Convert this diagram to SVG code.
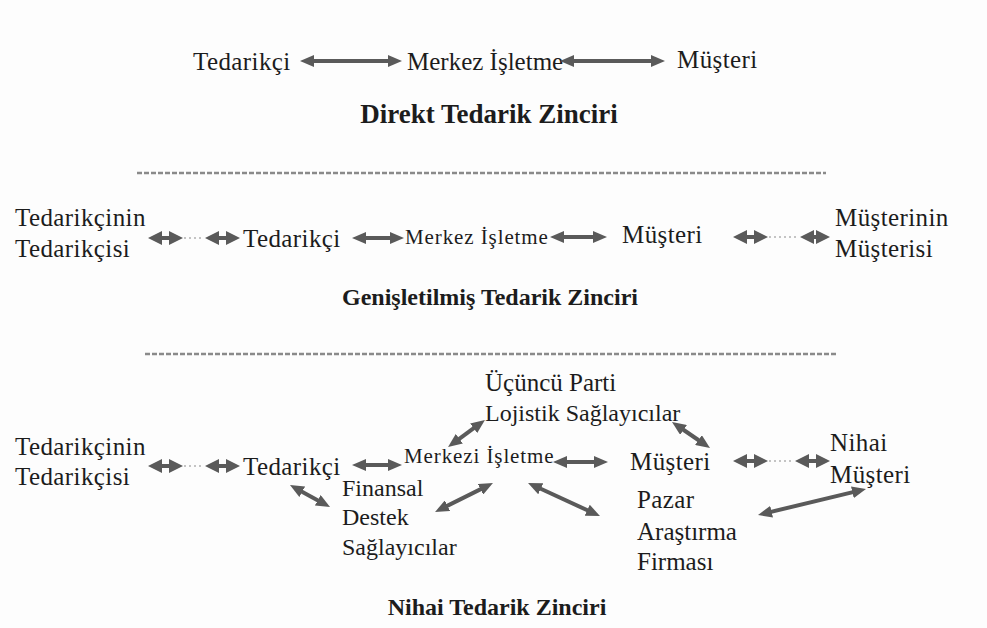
<svg xmlns="http://www.w3.org/2000/svg" width="987" height="628" viewBox="0 0 987 628" font-family="Liberation Serif, serif">
  <defs>
    <style>
      text { fill: #1c1c1c; font-size: 25px; letter-spacing: 0.4px; }
      .small { font-size: 21px; letter-spacing: 0.9px; }
      .mid { font-size: 24px; letter-spacing: 0; }
      .tight { letter-spacing: 0; }
      .title { font-weight: bold; font-size: 24px; text-anchor: middle; letter-spacing: 0; }
      .title.big { font-size: 27px; }
      .link { stroke: #5a5a5a; stroke-width: 4; fill: none; }
      .dots { stroke: #c4c4c4; stroke-width: 2; stroke-dasharray: 2 3; fill: none; }
      .sep { stroke: #8a8a8a; stroke-width: 2.5; stroke-dasharray: 5 2; fill: none; }
    </style>
    <marker id="head" markerUnits="userSpaceOnUse" markerWidth="14" markerHeight="12" refX="6" refY="6" orient="auto-start-reverse">
      <path d="M0,0 L14,6 L0,12 z" fill="#5a5a5a"/>
    </marker>
    <marker id="headS" markerUnits="userSpaceOnUse" markerWidth="14" markerHeight="14" refX="6" refY="7" orient="auto-start-reverse">
      <path d="M0,0 L14,7 L0,14 z" fill="#5a5a5a"/>
    </marker>
  </defs>

  <rect width="987" height="628" fill="#fdfdfd"/>

  <!-- Direct supply chain -->
  <g id="d-tedarikci"><text x="193" y="70">Tedarikçi</text></g>
  <g id="d-merkez"><text class="tight" x="407" y="70">Merkez İşletme</text></g>
  <g id="d-musteri"><text x="677" y="68">Müşteri</text></g>
  <g id="d-title"><text class="title big" x="489" y="123">Direkt Tedarik Zinciri</text></g>

  <line class="sep" x1="137" y1="173" x2="826" y2="173"/>

  <!-- Extended supply chain -->
  <g id="e-ted-ted">
    <text x="15" y="226">Tedarikçinin</text>
    <text x="15" y="257">Tedarikçisi</text>
  </g>
  <g id="e-tedarikci"><text x="243" y="247">Tedarikçi</text></g>
  <g id="e-merkez"><text class="small" x="405" y="244">Merkez İşletme</text></g>
  <g id="e-musteri"><text x="622" y="243">Müşteri</text></g>
  <g id="e-mus-mus">
    <text x="835" y="226">Müşterinin</text>
    <text x="835" y="257">Müşterisi</text>
  </g>
  <g id="e-title"><text class="title" x="490" y="305">Genişletilmiş Tedarik Zinciri</text></g>

  <line class="sep" x1="145" y1="354" x2="837" y2="354"/>

  <!-- Ultimate supply chain -->
  <g id="n-lojistik">
    <text class="tight" x="485" y="391">Üçüncü Parti</text>
    <text class="mid" x="485" y="421">Lojistik Sağlayıcılar</text>
  </g>
  <g id="n-ted-ted">
    <text x="15" y="455">Tedarikçinin</text>
    <text x="15" y="485">Tedarikçisi</text>
  </g>
  <g id="n-tedarikci"><text x="243" y="475">Tedarikçi</text></g>
  <g id="n-merkez"><text class="small" x="404" y="463">Merkezi İşletme</text></g>
  <g id="n-musteri"><text x="630" y="470">Müşteri</text></g>
  <g id="n-nihai">
    <text x="830" y="451">Nihai</text>
    <text x="830" y="483">Müşteri</text>
  </g>
  <g id="n-finansal">
    <text class="mid" x="342" y="496">Finansal</text>
    <text class="mid" x="342" y="525">Destek</text>
    <text class="mid" x="342" y="555">Sağlayıcılar</text>
  </g>
  <g id="n-pazar">
    <text x="637" y="508">Pazar</text>
    <text class="tight" x="637" y="540">Araştırma</text>
    <text class="tight" x="637" y="570">Firması</text>
  </g>
  <g id="n-title"><text class="title" x="497" y="615">Nihai Tedarik Zinciri</text></g>

  <g id="connectors">
    <!-- direct -->
    <line class="link" x1="308" y1="61" x2="394" y2="61" marker-start="url(#head)" marker-end="url(#head)"/>
    <line class="link" x1="568" y1="61" x2="657" y2="61" marker-start="url(#head)" marker-end="url(#head)"/>

    <!-- extended -->
    <line class="link" x1="156" y1="238" x2="175" y2="238" marker-start="url(#headS)" marker-end="url(#headS)"/>
    <line class="dots" x1="184" y1="238" x2="204" y2="238"/>
    <line class="link" x1="213" y1="238" x2="232" y2="238" marker-start="url(#headS)" marker-end="url(#headS)"/>
    <line class="link" x1="360" y1="238" x2="396" y2="238" marker-start="url(#head)" marker-end="url(#head)"/>
    <line class="link" x1="558" y1="237" x2="599" y2="237" marker-start="url(#head)" marker-end="url(#head)"/>
    <line class="link" x1="741" y1="237" x2="760" y2="237" marker-start="url(#headS)" marker-end="url(#headS)"/>
    <line class="dots" x1="769" y1="237" x2="799" y2="237"/>
    <line class="link" x1="808" y1="237" x2="822" y2="237" marker-start="url(#headS)" marker-end="url(#headS)"/>

    <!-- ultimate -->
    <line class="link" x1="156" y1="466" x2="175" y2="466" marker-start="url(#headS)" marker-end="url(#headS)"/>
    <line class="dots" x1="184" y1="466" x2="204" y2="466"/>
    <line class="link" x1="213" y1="466" x2="232" y2="466" marker-start="url(#headS)" marker-end="url(#headS)"/>
    <line class="link" x1="360" y1="465" x2="394" y2="465" marker-start="url(#head)" marker-end="url(#head)"/>
    <line class="link" x1="454.5" y1="442.3" x2="478.5" y2="424.7" marker-start="url(#head)" marker-end="url(#head)"/>
    <line class="link" x1="678.6" y1="426.5" x2="703.4" y2="443.5" marker-start="url(#head)" marker-end="url(#head)"/>
    <line class="link" x1="561" y1="462" x2="600" y2="462" marker-start="url(#head)" marker-end="url(#head)"/>
    <line class="link" x1="741" y1="461" x2="760" y2="461" marker-start="url(#headS)" marker-end="url(#headS)"/>
    <line class="dots" x1="769" y1="461" x2="794" y2="461"/>
    <line class="link" x1="803" y1="461" x2="822" y2="461" marker-start="url(#headS)" marker-end="url(#headS)"/>
    <line class="link" x1="297" y1="488.9" x2="323" y2="503.2" marker-start="url(#head)" marker-end="url(#head)"/>
    <line class="link" x1="442.2" y1="508.4" x2="485.8" y2="486.6" marker-start="url(#head)" marker-end="url(#head)"/>
    <line class="link" x1="535.3" y1="486.3" x2="592.7" y2="512.7" marker-start="url(#head)" marker-end="url(#head)"/>
    <line class="link" x1="765.8" y1="513.1" x2="858.2" y2="490.9" marker-start="url(#head)" marker-end="url(#head)"/>
  </g>
</svg>
